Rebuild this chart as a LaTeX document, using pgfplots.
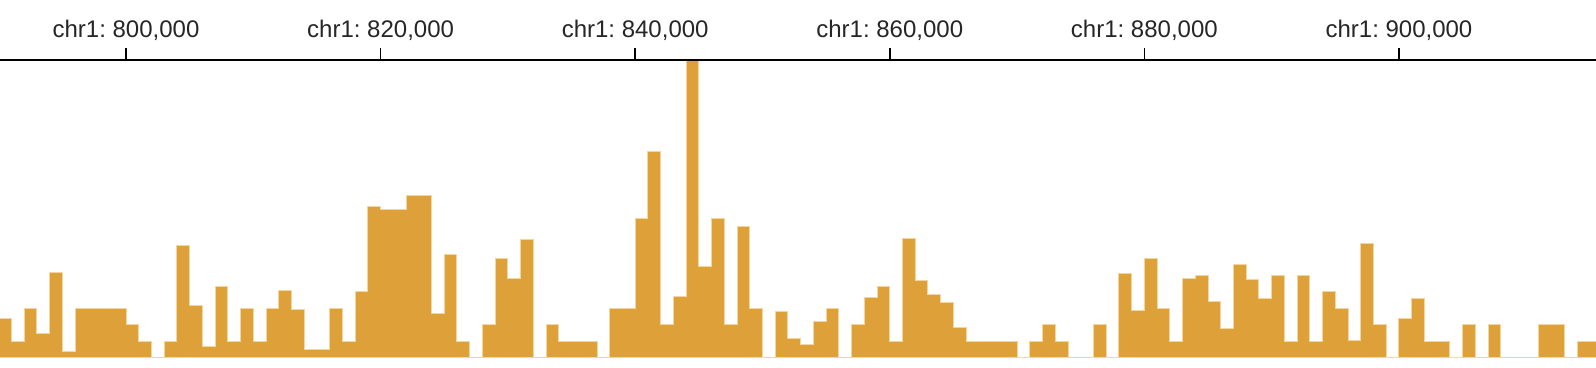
\documentclass[border=0pt]{standalone}
\usepackage{fontspec}
\setmainfont{Liberation Sans}
\frenchspacing
\usepackage{pgfplots}
\pgfplotsset{compat=1.18}
\usepackage{pgfplotstable}
\definecolor{barfill}{RGB}{222,161,57}
\definecolor{baredge}{RGB}{242,214,160}
\definecolor{frame}{RGB}{214,214,214}
\pgfplotstableread{
x y
790 38.3
791 16
792 49
793 23.3
794 85
795 5.3
796 49
797 49
798 49
799 49
800 32.3
801 16
802 0
803 16
804 112
805 51.3
806 10.6
807 70.3
808 16
809 49
810 16
811 49
812 66.3
813 47.6
814 7.3
815 8
816 49
817 16
818 65.3
819 150.6
820 148
821 148
822 162
823 162
824 44
825 103
826 16
827 0
828 32.3
829 98.3
830 78.3
831 118
832 0
833 32.3
834 16
835 16
836 16
837 0
838 49
839 48.3
840 139
841 206
842 33
843 61
844 297
845 91
846 138.3
847 32.3
848 131
849 49
850 0
851 46
852 18.6
853 12.6
854 35.3
855 49
856 0
857 32.3
858 60
859 70.3
860 16
861 119
862 77
863 62.3
864 54.3
865 29.6
866 16
867 16
868 16
869 16
870 0
871 16
872 32.3
873 16
874 0
875 0
876 32.3
877 0
878 83.6
879 47
880 98.3
881 49
882 16
883 78.6
884 82
885 55.6
886 28.3
887 92.6
888 77.3
889 58.3
890 81.6
891 16
892 81.6
893 16
894 65.3
895 49
896 17
897 113.6
898 32.3
899 0
900 39
901 58.3
902 16
903 16
904 0
905 32.3
906 0
907 32.3
908 0
909 0
910 0
911 32.3
912 32.3
913 0
914 16
915 16
916 0
}\coverage
\begin{document}
\begin{tikzpicture}
\begin{axis}[
  at={(0,0)}, anchor=south west,
  scale only axis,
  width=798pt, height=148.65pt,
  xmin=790.1, xmax=915.48,
  ymin=0, ymax=297,
  axis line style={draw=none},
  ytick=\empty,
  xtick={800,820,840,860,880,900},
  xticklabels={{chr1: 800,000},{chr1: 820,000},{chr1: 840,000},{chr1: 860,000},{chr1: 880,000},{chr1: 900,000}},
  xtick pos=upper, xticklabel pos=upper,
  tick align=outside,
  major tick length=6pt,
  x tick style={black, line width=0.8pt},
  xticklabel style={font=\fontsize{12}{14}\selectfont, text=black!85},
  clip=true,
]
\draw[frame, line width=0.5pt] (rel axis cs:0,0) -- (rel axis cs:1,0) -- (rel axis cs:1,1);
\addplot[const plot mark left, fill=barfill, draw=baredge, line width=0.5pt] table[x=x,y=y] {\coverage} \closedcycle;
\draw[frame, line width=0.5pt] (rel axis cs:1,0) -- (rel axis cs:1,1);
\draw[black, line width=0.6pt] (rel axis cs:0,1) -- (rel axis cs:1,1);
\end{axis}
\pgfresetboundingbox
\path[use as bounding box] (0,-5.35pt) rectangle (798pt,178.65pt);
\end{tikzpicture}
\end{document}
